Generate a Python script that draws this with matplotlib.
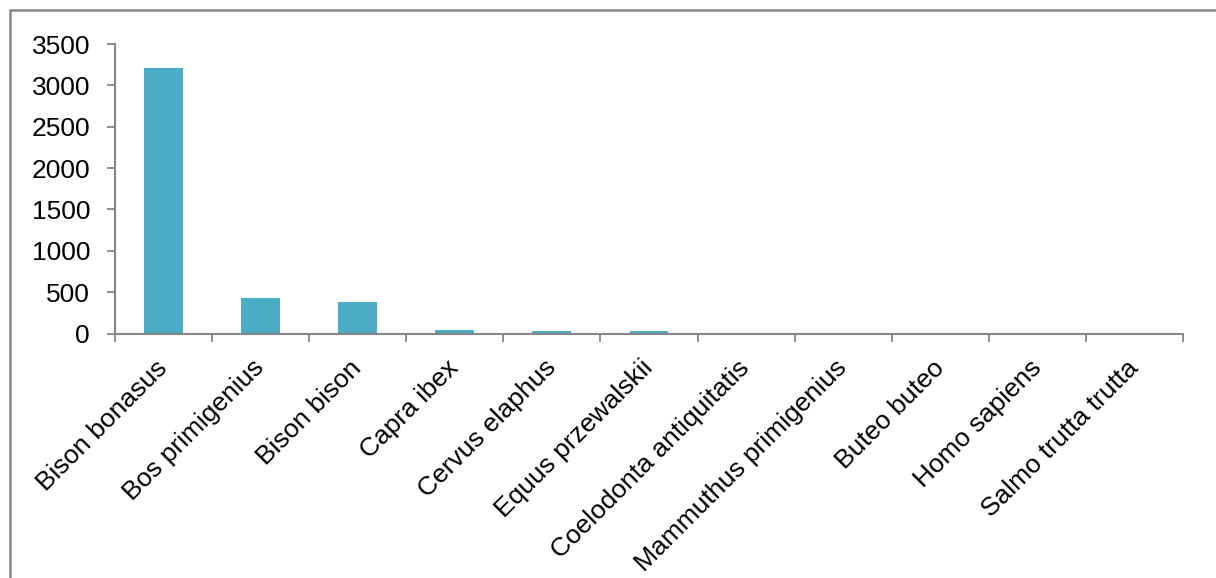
import matplotlib.pyplot as plt
from matplotlib.patches import Rectangle
import numpy as np

species = ["Bison bonasus", "Bos primigenius", "Bison bison", "Capra ibex",
           "Cervus elaphus", "Equus przewalskii", "Coelodonta antiquitatis",
           "Mammuthus primigenius", "Buteo buteo", "Homo sapiens",
           "Salmo trutta trutta"]
counts = [3215, 431, 377, 40, 28, 25, 5, 1, 1, 1, 1]
yticks = [0, 500, 1000, 1500, 2000, 2500, 3000, 3500]

plt.rcParams['font.family'] = ['Liberation Sans', 'DejaVu Sans']
grey = '#868686'

fig = plt.figure(figsize=(12.16, 5.78), dpi=100)
ax = fig.add_axes([115/1216, 1 - 333.5/578, (1183-115)/1216, (333.5-44)/578])

x = np.arange(len(species))
ax.bar(x, counts, width=0.4, color='#4BACC6')

ax.set_xlim(-0.5, len(species) - 0.5)
ax.set_ylim(0, 3500)
ax.set_yticks(yticks)
ax.set_yticklabels([str(v) for v in yticks], fontsize=19)

# tick marks between categories, labels under category centres
ax.set_xticks(np.arange(-0.5, len(species)), minor=True)
ax.set_xticks(x)
ax.set_xticklabels(species, rotation=45, ha='right', va='center',
                   rotation_mode='anchor', fontsize=19)
ax.tick_params(axis='x', which='major', length=0, pad=22)
ax.tick_params(axis='x', which='minor', length=6, width=1.3, color=grey)
ax.tick_params(axis='y', length=6, width=1.3, color=grey, pad=12)

for s in ['top', 'right']:
    ax.spines[s].set_visible(False)
for s in ['left', 'bottom']:
    ax.spines[s].set_color(grey)
    ax.spines[s].set_linewidth(1.5)

# outer chart border (right and bottom edges fall outside the image)
fig.patches.append(Rectangle((10/1216, -0.1), 1.2, 1.1 - 10/578,
                             transform=fig.transFigure, fill=False,
                             edgecolor=grey, linewidth=1.8))

fig.savefig("out.png", dpi=100)
